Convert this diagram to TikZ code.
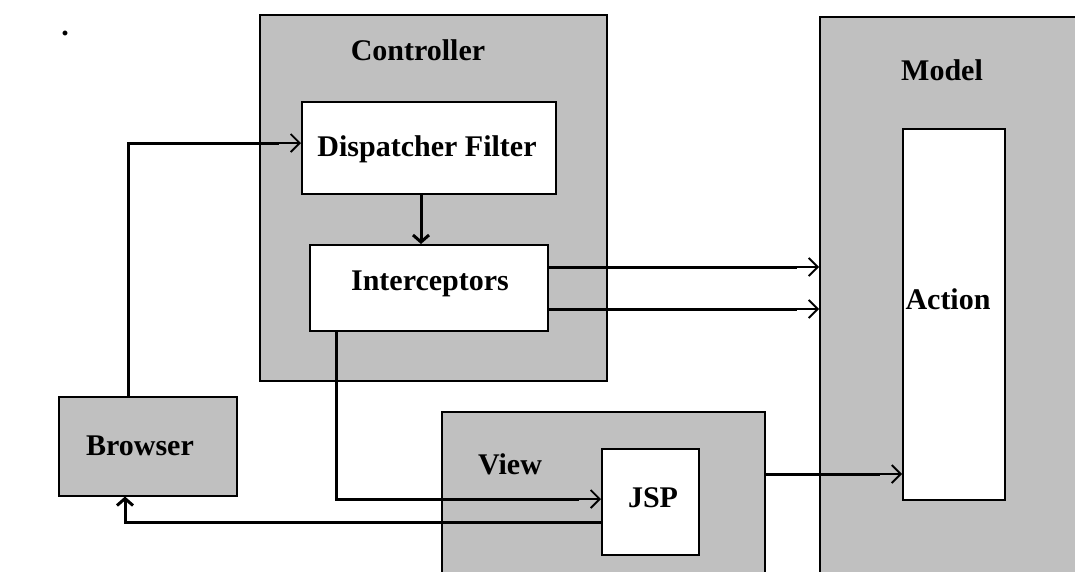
\documentclass[tikz,border=0pt]{standalone}
\usepackage{fontspec}
\setmainfont{Liberation Serif}
\usetikzlibrary{arrows.meta}
\definecolor{boxgray}{RGB}{192,192,192}
\tikzset{
  gbox/.style={draw=black, line width=1.5pt, fill=boxgray, inner sep=0pt, anchor=north west},
  wbox/.style={draw=black, line width=1.5pt, fill=white, inner sep=0pt, anchor=north west},
  lbl/.style={font=\fontsize{30}{34}\selectfont\bfseries, inner sep=0pt},
  arr/.style={draw, line width=1.2pt, -{Straight Barb[length=9pt,width=18pt,line width=1.8pt]},
              postaction={draw, line width=3pt, shorten >=22pt, -}},
  barr/.style={draw, line width=3pt, -{Straight Barb[length=7pt,width=16pt,line width=3pt]}}
}
\begin{document}
\begin{tikzpicture}[x=1pt,y=-1pt]
\useasboundingbox (0,0) rectangle (1075,571);
\clip (0,0) rectangle (1075,571);
\fill[white] (0,0) rectangle (1075,571);
% boxes
\node[gbox, minimum width=347pt, minimum height=366pt] (ctrl) at (259,14) {};
\node[gbox, minimum width=280pt, minimum height=600pt] (model) at (819,16) {};
\node[gbox, minimum width=323pt, minimum height=200pt] (view) at (441,411) {};
\node[gbox, minimum width=178pt, minimum height=99pt] (brow) at (58,396) {};
\node[wbox, minimum width=254pt, minimum height=92pt] (df) at (301,101) {};
\node[wbox, minimum width=238pt, minimum height=86pt] (int) at (309,244) {};
\node[wbox, minimum width=102pt, minimum height=371pt] (act) at (902,128) {};
\node[wbox, minimum width=97pt, minimum height=106pt] (jsp) at (601,448) {};
% labels
\node[lbl] (tctrl) at (418,50) {Controller};
\node[lbl] (tmodel) at (942,70) {Model};
\node[lbl] (tview) at (510,464) {View};
\node[lbl] (tdf) at (427,149) {Dispatcher Filter};
\node[lbl] (tint) at (430,284) {Interceptors};
\node[lbl] (tact) at (948,299) {Action};
\node[lbl] (tjsp) at (653,498) {JSP};
\node[lbl] (tbrow) at (140,446) {Browser};
\node[lbl] (dot) at (65,33) {.};
% helper coordinates
\coordinate (yb) at (128,396);
\coordinate (ydf) at (0,143);
\coordinate (y1) at (0,267);
\coordinate (y2) at (0,309);
\coordinate (xi) at (336,0);
\coordinate (yj) at (0,499);
\coordinate (yr) at (0,522);
\coordinate (xb) at (125,0);
\coordinate (yv) at (0,474);
% connectors
\draw[arr] (brow.north -| yb) |- (df.west |- ydf);
\draw[barr] (df.south -| 421,0) -- (int.north -| 421,0);
\draw[arr] (int.east |- y1) -- (model.west |- y1);
\draw[arr] (int.east |- y2) -- (model.west |- y2);
\draw[arr] (int.south -| xi) |- (jsp.west |- yj);
\draw[barr] (jsp.west |- yr) -| (brow.south -| xb);
\draw[arr] (view.east |- yv) -- (act.west |- yv);
\end{tikzpicture}
\end{document}
